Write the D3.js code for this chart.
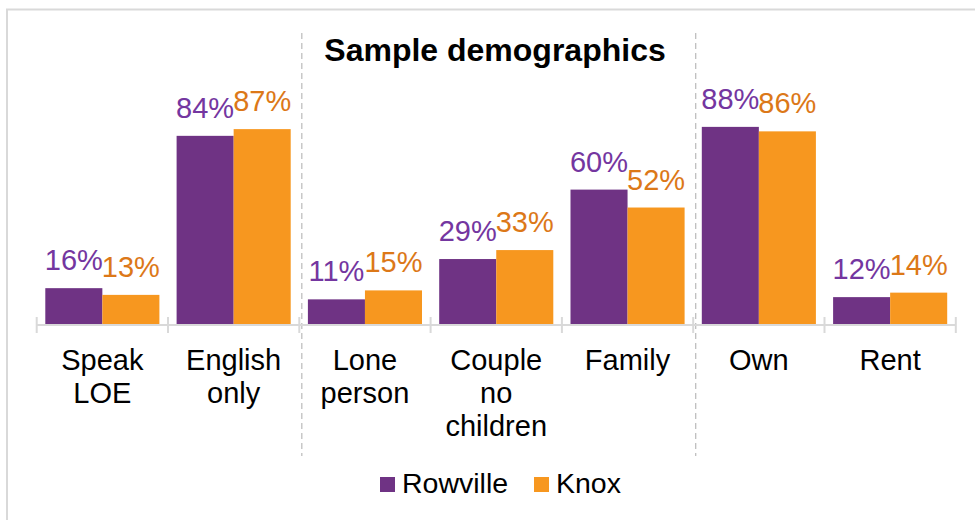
<!DOCTYPE html>
<html>
<head>
<meta charset="utf-8">
<script src="https://cdn.jsdelivr.net/npm/d3@7"></script>
<style>
  body { margin: 0; background: white; }
</style>
</head>
<body>
<script>

// --- Data ---
var categories = [["Speak", "LOE"], ["English", "only"], ["Lone", "person"],
                  ["Couple", "no", "children"], ["Family"], ["Own"], ["Rent"]];
var series = ["Rowville", "Knox"];
var rowville = [0.16, 0.84, 0.11, 0.29, 0.60, 0.88, 0.12];
var knox = [0.13, 0.87, 0.15, 0.33, 0.52, 0.86, 0.14];
var groupBreaks = [2, 5];   // dashed separators sit before these categories

var values = [rowville, knox];

// --- Colour parameters ---
var bar_col = ["#6f3384", "#f7971f"],
    lab_col = ["#7436a0", "#dc7818"],
    grid_col = "#d9d9d9",
    dash_col = "#bfbfbf";

var font = '"Liberation Sans", Arial, sans-serif';

var width = 975,
    height = 520;

var svg = d3.select("body")
    .append("svg")
    .attr("width", width)
    .attr("height", height);

// --- Chart border ---
svg.append("rect")
    .attr("x", 7)
    .attr("y", 9.5)
    .attr("width", 980)
    .attr("height", 520)
    .attr("fill", "none")
    .attr("stroke", grid_col)
    .attr("stroke-width", 2);

// --- Scales ---
var ids = categories.map(function(d, i) { return i; });

var x0 = d3.scaleBand()
    .domain(ids)
    .range([36.7, 955.8])
    .padding(0);

var x1 = d3.scaleBand()
    .domain(series)
    .range([8.6, x0.bandwidth() - 8.6]);

var y = d3.scaleLinear()
    .domain([0, 1])
    .range([324, 100]);

// --- Dashed group separators ---
svg.append("g")
    .selectAll("line")
    .data(groupBreaks)
    .join("line")
    .attr("x1", function(d) { return x0(d) + 2.5; })
    .attr("x2", function(d) { return x0(d) + 2.5; })
    .attr("y1", 33)
    .attr("y2", 456)
    .attr("stroke", dash_col)
    .attr("stroke-width", 1.3)
    .attr("stroke-dasharray", "6,4");

// --- Title ---
svg.append("text")
    .text("Sample demographics")
    .attr("x", 495)
    .attr("y", 61)
    .attr("text-anchor", "middle")
    .attr("font-family", font)
    .attr("font-size", "32px")
    .attr("font-weight", 700)
    .attr("fill", "black");

// --- Bars ---
var groups = svg.append("g")
    .selectAll("g")
    .data(ids)
    .join("g")
    .attr("transform", function(d) { return "translate(" + x0(d) + ",0)"; });

series.forEach(function(s, si) {
    groups.append("rect")
        .attr("x", x1(s))
        .attr("y", function(d) { return y(values[si][d]); })
        .attr("width", x1.bandwidth())
        .attr("height", function(d) { return y(0) - y(values[si][d]); })
        .attr("fill", bar_col[si]);

    groups.append("text")
        .text(function(d) { return Math.round(values[si][d] * 100) + "%"; })
        .attr("x", x1(s) + x1.bandwidth() / 2)
        .attr("y", function(d) { return y(values[si][d]) - 18; })
        .attr("text-anchor", "middle")
        .attr("font-family", font)
        .attr("font-size", "29px")
        .attr("fill", lab_col[si]);
});

// --- Category axis ---
var axis = svg.append("g");

axis.append("line")
    .attr("x1", x0.range()[0])
    .attr("x2", x0.range()[1])
    .attr("y1", y(0) + 1)
    .attr("y2", y(0) + 1)
    .attr("stroke", grid_col)
    .attr("stroke-width", 2);

axis.selectAll("line.tick")
    .data(ids.concat([ids.length]))
    .join("line")
    .attr("class", "tick")
    .attr("x1", function(d) { return x0.range()[0] + d * x0.step(); })
    .attr("x2", function(d) { return x0.range()[0] + d * x0.step(); })
    .attr("y1", y(0) - 7)
    .attr("y2", y(0) + 9)
    .attr("stroke", grid_col)
    .attr("stroke-width", 2);

axis.selectAll("text")
    .data(ids)
    .join("text")
    .attr("x", function(d) { return x0(d) + x0.bandwidth() / 2; })
    .attr("y", 370)
    .attr("text-anchor", "middle")
    .attr("font-family", font)
    .attr("font-size", "29px")
    .attr("fill", "black")
    .selectAll("tspan")
    .data(function(d) { return categories[d].map(function(t) { return {t: t, c: d}; }); })
    .join("tspan")
    .attr("x", function(d) { return x0(d.c) + x0.bandwidth() / 2; })
    .attr("dy", function(d, i) { return i === 0 ? 0 : 33; })
    .text(function(d) { return d.t; });

// --- Legend ---
var legend = svg.append("g");
var legend_x = [380, 534];

series.forEach(function(s, si) {
    legend.append("rect")
        .attr("x", legend_x[si])
        .attr("y", 477)
        .attr("width", 15)
        .attr("height", 15)
        .attr("fill", bar_col[si]);

    legend.append("text")
        .text(s)
        .attr("x", legend_x[si] + 22)
        .attr("y", 493)
        .attr("font-family", font)
        .attr("font-size", "28.5px")
        .attr("fill", "black");
});

</script>
</body>
</html>
